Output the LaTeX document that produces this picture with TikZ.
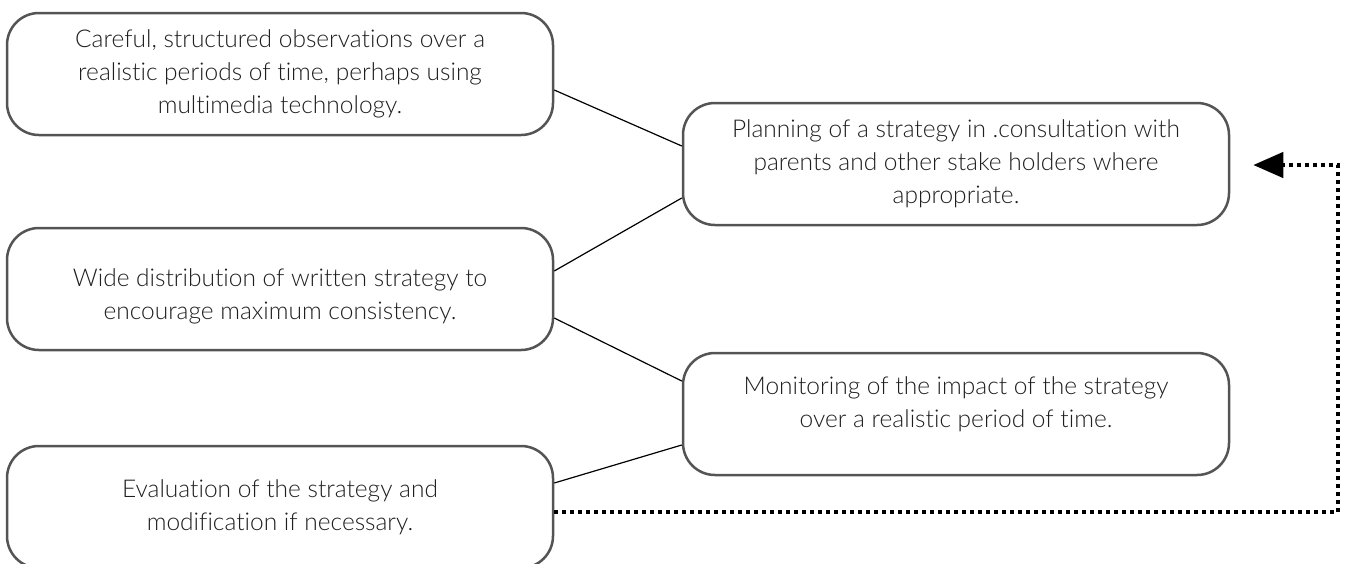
\documentclass[tikz,border=0pt]{standalone}
\usepackage{fontspec}
\setmainfont{Lato}[UprightFont=* Light, Ligatures=NoCommon]
\usetikzlibrary{arrows.meta}

\begin{document}
\begin{tikzpicture}[x=1pt, y=-1pt,
    kasten/.style={
      draw=black!67,
      line width=2.5pt,
      rounded corners=32pt,
      minimum width=546pt,
      minimum height=122pt,
      align=center,
      text=black!88,
      font=\fontsize{24.5}{33}\selectfont},
    linie/.style={line width=1.2pt},
    rueckpfeil/.style={
      line width=4.5pt,
      dash pattern=on 4pt off 4pt,
      -{Triangle[length=30pt,width=25pt]}}
    ]

  \useasboundingbox (0,0) rectangle (1349,563);
  \clip (0,0) rectangle (1349,563);

  \node at (280,74) (beobachtung) [kasten] {Careful, structured observations over a\\
    realistic periods of time, perhaps using\\ multimedia technology.};

  \node at (956,164) (planung) [kasten] {Planning of a strategy in .consultation with\\
    parents and other stake holders where\\ appropriate.};

  \node at (280,289) (verteilung) [kasten] {\rule{0pt}{32pt}Wide distribution of written strategy to\\
    encourage maximum consistency.};

  \node at (956,414) (ueberwachung) [kasten] {Monitoring of the impact of the strategy\\
    over a realistic period of time.\rule[-24pt]{0pt}{0pt}};

  \node at (280,507) (bewertung) [kasten] {Evaluation of the strategy and\\
    modification if necessary.};

  \coordinate (eckeU) at (1338,512);
  \coordinate (eckeO) at (1338,165);

  \path [linie] ([yshift=-16pt]beobachtung.east) edge [] ([yshift=18pt]planung.west);
  \path [linie] ([yshift=18pt]verteilung.east) edge [] ([yshift=-34pt]planung.west);
  \path [linie] ([yshift=-29pt]verteilung.east) edge [] ([yshift=33pt]ueberwachung.west);
  \path [linie] ([yshift=24pt]bewertung.east) edge [] ([yshift=-31pt]ueberwachung.west);

  % Rueckkopplung
  \draw [rueckpfeil] ([yshift=-5pt]bewertung.east) -- (eckeU) -- (eckeO)
    -- ([xshift=23pt,yshift=-1pt]planung.east);

\end{tikzpicture}
\end{document}
